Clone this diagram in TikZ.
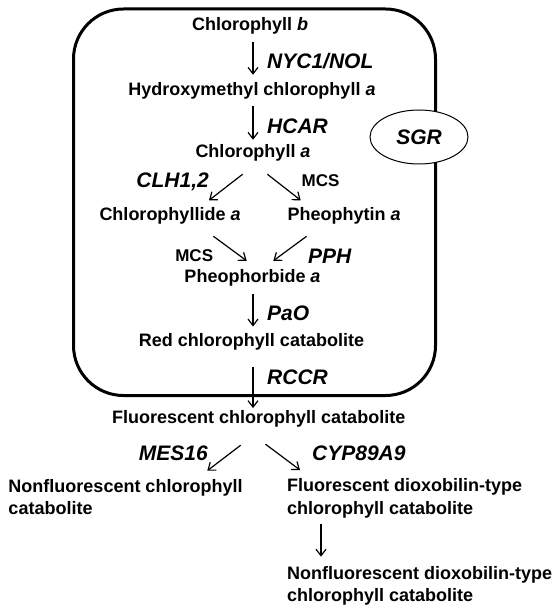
\documentclass[tikz,border=0pt]{standalone}
\usepackage{fontspec}
\setmainfont{Liberation Sans}
\usepackage{tikz}
\usetikzlibrary{ % tikz packages
    positioning,shapes.geometric,
    arrows.meta
}
\tikzset{chem/.style={
    inner sep=0pt,
    font=\bfseries\fontsize{18}{22.5}\selectfont,
    text height=13pt, text depth=4pt
}}
\tikzset{chemlong/.style={
    inner sep=0pt, align=left,
    font=\bfseries\fontsize{18}{22.5}\selectfont
}}
\tikzset{enz/.style={
    inner sep=0pt,
    font=\bfseries\itshape\fontsize{21}{25}\selectfont
}}
\tikzset{mcs/.style={
    inner sep=0pt,
    font=\bfseries\fontsize{17}{20}\selectfont
}}
\tikzset{conv/.style={
    -{Straight Barb[length=6.5pt,width=10pt]},
    line width=1.2pt
}}

\begin{document}
\begin{tikzpicture}[x=1pt,y=-1pt]
        \useasboundingbox (0,0) rectangle (558,609);
        \coordinate (ax) at (253,0);

        % chloroplast
        \draw[line width=3pt,rounded corners=50pt] (73.5,9) rectangle (435.5,395.5);
        \node[ellipse,draw,fill=white,line width=1pt,minimum width=98pt,
              minimum height=54pt,inner sep=0pt,font=\bfseries\itshape\fontsize{21}{25}\selectfont]
              (sgr) at (419,137) {SGR};

        % pathway
        \node[chem] (cb)   at (250,26)    {Chlorophyll \textit{b}};
        \node[chem] (hca)  at (252,90.7)  {Hydroxymethyl chlorophyll \textit{a}};
        \node[chem] (chla) at (253,153.3) {Chlorophyll \textit{a}};
        \node[chem,anchor=west] (chlide) at (99.3,216) {Chlorophyllide \textit{a}};
        \node[chem,anchor=west] (pheo)   at (287.3,216) {Pheophytin \textit{a}};
        \node[chem] (pbd)  at (252.5,278.3) {Pheophorbide \textit{a}};
        \node[chem] (rcc)  at (251.5,341.7) {Red chlorophyll catabolite};
        \node[chem,anchor=west] (fcc) at (112,419.3) {Fluorescent chlorophyll catabolite};
        \node[chemlong,anchor=north west] (ncc)  at (8.3,478.9)
              {Nonfluorescent chlorophyll\\catabolite};
        \node[chemlong,anchor=north west] (fdcc) at (287,478.6)
              {Fluorescent dioxobilin-type\\chlorophyll catabolite};
        \node[chemlong,anchor=north west] (ndcc) at (287,565.9)
              {Nonfluorescent dioxobilin-type\\chlorophyll catabolite};

        % enzymes
        \node[enz,anchor=west] (nyc)  at (267,61)    {NYC1/NOL};
        \node[enz,anchor=west] (hcar) at (267,126)   {HCAR};
        \node[enz,anchor=east] (clh)  at (209,182)   {CLH1,2};
        \node[mcs,anchor=west] (mcsa) at (301.5,180.5) {MCS};
        \node[mcs,anchor=east] (mcsb) at (213.3,255.5) {MCS};
        \node[enz,anchor=west] (pph)  at (308,256)   {PPH};
        \node[enz,anchor=west] (pao)  at (267,313.3) {PaO};
        \node[enz,anchor=west] (rccr) at (267,377.3) {RCCR};
        \node[enz,anchor=east] (mes)  at (208,453)   {MES16};
        \node[enz,anchor=west] (cyp)  at (312,453.3) {CYP89A9};

        \draw[conv,shorten <=7.2pt,shorten >=7.2pt] (cb.south -| ax) -- (hca.north -| ax);
        \draw[conv,shorten <=6.8pt,shorten >=4.8pt] (hca.south -| ax) -- (chla.north -| ax);
        \draw[conv] ([shift={(-10.3,12.2)}]chla.south) -- ([shift={(109.7,-7)}]chlide.north west);
        \draw[conv] ([shift={(14.3,12.2)}]chla.south) -- ([shift={(13.4,-7)}]pheo.north west);
        \draw[conv] ([shift={(114,11.5)}]chlide.south west) -- ([shift={(-5.8,-8.8)}]pbd.north);
        \draw[conv] ([shift={(19.4,11.5)}]pheo.south west) -- ([shift={(20.8,-8.8)}]pbd.north);
        \draw[conv,shorten <=7.2pt,shorten >=6.5pt] (pbd.south -| ax) -- (rcc.north -| ax);
        \draw[conv,shorten <=16.5pt,shorten >=2.5pt] (rcc.south -| ax) -- (fcc.north -| ax);
        \draw[conv] ([shift={(128.7,17.2)}]fcc.south west) -- ([shift={(199,-8.2)}]ncc.north west);
        \draw[conv] ([shift={(153.5,16.2)}]fcc.south west) -- ([shift={(13,-8.6)}]fdcc.north west);
        \draw[conv] ([shift={(34,5.3)}]fdcc.south west) -- ([shift={(34,-9.2)}]ndcc.north west);
    \end{tikzpicture}
\end{document}
